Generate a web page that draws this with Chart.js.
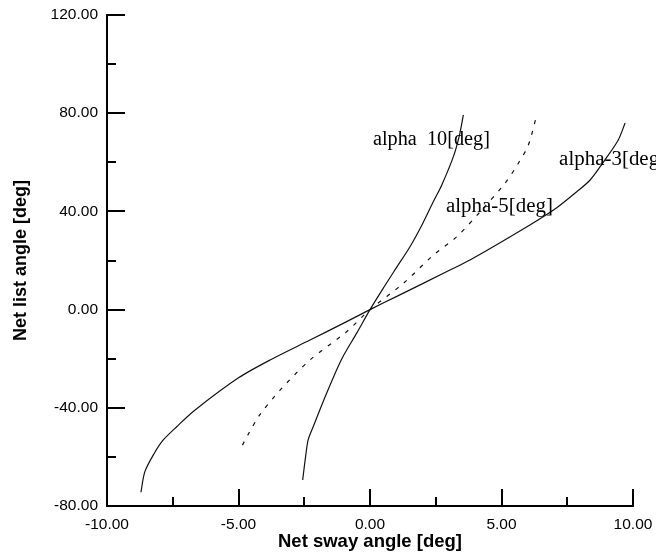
<!DOCTYPE html>
<html>
<head>
<meta charset="utf-8">
<script src="https://cdn.jsdelivr.net/npm/chart.js@4/dist/chart.umd.min.js"></script>
<style>
  html, body { margin: 0; padding: 0; background: #fff; }
</style>
</head>
<body>
<canvas id="chart" width="656" height="554"></canvas>
<script>
const alpha10Sway = [-2.56, -2.45, -2.35, -2.16, -1.65, -1.08, -0.5, 0, 0.55, 1.0, 1.52, 2.0, 2.41, 2.73, 3.17, 3.4, 3.55]
const alpha10List = [-69.4, -60, -53, -47.7, -34.1, -20.2, -9.5, 0, 9.5, 17, 25.6, 35, 44, 50.8, 62.3, 71, 79.3]

const alpha5Sway = [-4.85, -4.64, -4.2, -3.42, -2.28, -0.89, 0, 1.27, 2.41, 3.3, 4.2, 5.13, 5.64, 6.02, 6.34]
const alpha5List = [-55.2, -51, -43, -32.8, -20.5, -9, 0, 10.7, 22.2, 29.7, 40, 51.4, 59.6, 67, 79.3]

const alpha3Sway = [-8.71, -8.56, -8.2, -7.86, -7.35, -6.65, -5.0, -3.74, -2.28, -1.0, 0, 1.0, 3.04, 3.8, 6.08, 7.1, 7.86, 8.37, 8.9, 9.44, 9.7]
const alpha3List = [-74.4, -66, -58.5, -53.1, -47.7, -40.9, -27.8, -20.2, -12.4, -5.5, 0, 5.3, 16.1, 20.2, 34.5, 41.5, 48, 52.8, 60.5, 69.1, 76]

const seriesNames = ['alpha  10[deg]', 'alpha-5[deg]', 'alpha-3[deg]']

const xMajorTicks = [-5, 0, 5, 10]
const xMinorTicks = [-7.5, -2.5, 2.5, 7.5]
const yMajorTicks = [-40, 0, 40, 80, 120]
const yMinorTicks = [-60, -20, 20, 60, 100]

const toPoints = (xs, ys) => xs.map((x, i) => ({ x, y: ys[i] }))

const innerTicks = {
  id: 'innerTicks',
  afterDraw (chart) {
    const { ctx, chartArea } = chart
    const xs = chart.scales.x
    const ys = chart.scales.y
    ctx.save()
    ctx.strokeStyle = '#000'
    ctx.lineWidth = 2
    ctx.beginPath()
    xMajorTicks.forEach(v => {
      const px = Math.round(xs.getPixelForValue(v))
      ctx.moveTo(px, chartArea.bottom)
      ctx.lineTo(px, chartArea.bottom - 17)
    })
    xMinorTicks.forEach(v => {
      const px = Math.round(xs.getPixelForValue(v))
      ctx.moveTo(px, chartArea.bottom)
      ctx.lineTo(px, chartArea.bottom - 9)
    })
    yMajorTicks.forEach(v => {
      const py = Math.round(ys.getPixelForValue(v))
      ctx.moveTo(chartArea.left, py)
      ctx.lineTo(chartArea.left + 18, py)
    })
    yMinorTicks.forEach(v => {
      const py = Math.round(ys.getPixelForValue(v))
      ctx.moveTo(chartArea.left, py)
      ctx.lineTo(chartArea.left + 9, py)
    })
    ctx.stroke()

    // curve labels, placed in data coordinates
    const spots = [
      { x: 0.11, y: 69.1, w: 117 },
      { x: 2.89, y: 41.9, w: 107 },
      { x: 7.19, y: 60.9, w: 107 }
    ]
    ctx.fillStyle = '#000'
    ctx.font = "20px 'Liberation Serif'"
    ctx.textBaseline = 'middle'
    ctx.textAlign = 'left'
    spots.forEach((s, i) => {
      const px = xs.getPixelForValue(s.x)
      const py = ys.getPixelForValue(s.y)
      const mw = ctx.measureText(seriesNames[i]).width
      ctx.save()
      ctx.translate(px, py)
      ctx.scale(s.w / mw, 1)
      ctx.fillText(seriesNames[i], 0, 0)
      ctx.restore()
    })
    ctx.restore()
  }
}

const lineStyle = {
  showLine: true,
  fill: false,
  borderColor: '#111',
  borderWidth: 1.2,
  pointRadius: 0,
  tension: 0.3
}

new Chart(document.getElementById('chart'), {
  type: 'scatter',
  data: {
    datasets: [
      { label: seriesNames[0], data: toPoints(alpha10Sway, alpha10List), ...lineStyle },
      { label: seriesNames[1], data: toPoints(alpha5Sway, alpha5List), ...lineStyle, borderDash: [4, 7] },
      { label: seriesNames[2], data: toPoints(alpha3Sway, alpha3List), ...lineStyle }
    ]
  },
  options: {
    responsive: false,
    animation: false,
    layout: { padding: { top: 15, right: 23, left: 0, bottom: 0 } },
    plugins: {
      legend: { display: false },
      tooltip: { enabled: false }
    },
    scales: {
      x: {
        type: 'linear',
        min: -10,
        max: 10,
        afterFit: s => { s.height = 48; s.paddingLeft = 0; s.paddingRight = 0 },
        ticks: {
          stepSize: 5,
          color: '#000',
          padding: 9,
          maxRotation: 0,
          font: { family: "'Liberation Sans', Arial", size: 15.5 },
          callback: v => v.toFixed(2)
        },
        grid: { display: false, drawTicks: false },
        border: { display: true, color: '#000', width: 2 },
        title: {
          display: true,
          text: 'Net sway angle [deg]',
          color: '#000',
          font: { family: "'Liberation Sans', Arial", size: 18.5, weight: 'bold' },
          padding: { top: 0, bottom: 1 }
        }
      },
      y: {
        type: 'linear',
        min: -80,
        max: 120,
        afterFit: s => { s.width = 107; s.paddingTop = 0; s.paddingBottom = 0 },
        ticks: {
          stepSize: 40,
          color: '#000',
          padding: 9,
          font: { family: "'Liberation Sans', Arial", size: 15.5 },
          callback: v => v.toFixed(2)
        },
        grid: { display: false, drawTicks: false },
        border: { display: true, color: '#000', width: 2 },
        title: {
          display: true,
          text: 'Net list angle [deg]',
          color: '#000',
          font: { family: "'Liberation Sans', Arial", size: 18, weight: 'bold' },
          padding: { top: 10, bottom: 0 }
        }
      }
    }
  },
  plugins: [innerTicks]
})
</script>
</body>
</html>
